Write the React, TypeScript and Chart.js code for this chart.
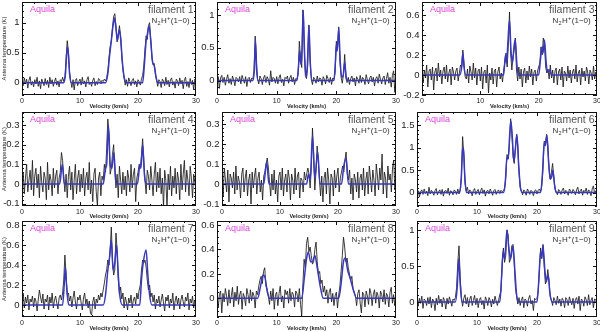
import React, { useEffect, useRef } from "react";
import { Chart, registerables } from "chart.js";

Chart.register(...registerables);

// ---------------- data ----------------
const VELOCITY = [
  0, 0.2, 0.4, 0.6, 0.8, 1, 1.2, 1.4, 1.6, 1.8,
  2, 2.2, 2.4, 2.6, 2.8, 3, 3.2, 3.4, 3.6, 3.8,
  4, 4.2, 4.4, 4.6, 4.8, 5, 5.2, 5.4, 5.6, 5.8,
  6, 6.2, 6.4, 6.6, 6.8, 7, 7.2, 7.4, 7.6, 7.8,
  8, 8.2, 8.4, 8.6, 8.8, 9, 9.2, 9.4, 9.6, 9.8,
  10, 10.2, 10.4, 10.6, 10.8, 11, 11.2, 11.4, 11.6, 11.8,
  12, 12.2, 12.4, 12.6, 12.8, 13, 13.2, 13.4, 13.6, 13.8,
  14, 14.2, 14.4, 14.6, 14.8, 15, 15.2, 15.4, 15.6, 15.8,
  16, 16.2, 16.4, 16.6, 16.8, 17, 17.2, 17.4, 17.6, 17.8,
  18, 18.2, 18.4, 18.6, 18.8, 19, 19.2, 19.4, 19.6, 19.8,
  20, 20.2, 20.4, 20.6, 20.8, 21, 21.2, 21.4, 21.6, 21.8,
  22, 22.2, 22.4, 22.6, 22.8, 23, 23.2, 23.4, 23.6, 23.8,
  24, 24.2, 24.4, 24.6, 24.8, 25, 25.2, 25.4, 25.6, 25.8,
  26, 26.2, 26.4, 26.6, 26.8, 27, 27.2, 27.4, 27.6, 27.8,
  28, 28.2, 28.4, 28.6, 28.8, 29, 29.2, 29.4, 29.6, 29.8, 30,
];
const X_TICKS = [0, 10, 20, 30];
const SOURCE = "Aquila";
const NAMES = [
  "filament 1", "filament 2", "filament 3",
  "filament 4", "filament 5", "filament 6",
  "filament 7", "filament 8", "filament 9",
];
const X_TITLE = "Velocity (km/s)";
const Y_TITLE = "Antenna temperature (K)";

const SPEC_1 = [
  0.03, -0.05, 0.08, -0.02, 0.06, -0.09, 0.04, 0.10, -0.04, 0.02,
  -0.07, 0.05, -0.02, 0.09, -0.06, 0.03, -0.10, 0.06, 0.01, -0.05,
  0.07, -0.03, 0.04, -0.08, 0.09, -0.02, 0.05, -0.06, 0.02, 0.08,
  -0.04, 0.03, -0.07, 0.05, 0.02, 0.09, 0.02, 0.10, 0.40, 0.70,
  0.52, 0.18, 0.03, -0.08, 0.05, -0.12, 0.04, 0.07, -0.05, 0.02,
  0.06, -0.04, 0.09, -0.02, 0.03, -0.07, 0.05, 0.10, -0.03, 0.01,
  -0.06, 0.04, 0.08, -0.05, 0.02, -0.03, 0.07, 0.05, -0.02, 0.04,
  0.02, 0.06, 0.03, 0.08, 0.20, 0.42, 0.60, 0.70, 0.92, 1.10,
  1.15, 0.95, 0.68, 0.80, 0.95, 0.78, 0.45, 0.22, 0.08, -0.04,
  0.05, -0.06, 0.08, 0.02, -0.05, 0.04, 0.07, -0.03, 0.03, -0.07,
  0.05, 0.02, -0.04, 0.06, 0.12, 0.28, 0.55, 0.78, 0.72, 0.95,
  1.00, 0.72, 0.42, 0.30, 0.32, 0.15, 0.04, -0.06, 0.05, 0.02,
  -0.08, 0.06, 0.03, -0.05, 0.09, -0.03, 0.04, -0.07, 0.05, 0.08,
  -0.04, 0.02, -0.09, 0.06, 0.03, -0.05, 0.08, -0.02, 0.04, -0.10,
  0.05, 0.09, -0.06, 0.02, -0.08, 0.07, -0.03, 0.04, -0.12, 0.06, 0.01,
];
const FIT_V_1 = [0, 7.2, 7.5, 7.7, 7.85, 8.0, 8.2, 8.5, 14.4, 14.8, 15.1, 15.4, 15.7, 15.95, 16.2, 16.45, 16.75, 17.0, 17.3, 17.6, 18.0, 20.8, 21.1, 21.4, 21.6, 21.9, 22.2, 22.5, 22.8, 23.1, 23.4, 30];
const FIT_T_1 = [0, 0, 0.15, 0.48, 0.6, 0.48, 0.15, 0, 0, 0.15, 0.45, 0.7, 0.95, 1.08, 0.9, 0.7, 0.88, 0.75, 0.35, 0.1, 0, 0, 0.3, 0.7, 0.8, 0.95, 0.7, 0.35, 0.28, 0.1, 0, 0];

const SPEC_2 = [
  -0.05, 0.06, -0.12, 0.04, 0.08, -0.03, 0.05, -0.07, 0.02, 0.09,
  -0.04, 0.03, -0.06, 0.07, 0.01, -0.08, 0.05, 0.03, -0.02, 0.06,
  -0.05, 0.08, 0.02, -0.04, 0.06, -0.09, 0.03, 0.05, -0.03, 0.04,
  0.02, 0.15, 0.68, 0.30, 0.02, -0.05, 0.07, 0.03, -0.06, 0.04,
  0.08, -0.03, 0.06, 0.02, -0.07, 0.15, -0.02, 0.05, 0.03, -0.04,
  0.06, -0.05, 0.04, 0.09, -0.03, 0.02, -0.08, 0.05, 0.03, 0.07,
  -0.04, 0.04, 0.08, -0.02, 0.05, -0.06, 0.03, 0.02, 0.10, 0.60,
  0.35, 0.20, 1.08, 0.55, 0.08, 0.03, 0.22, 0.85, 0.30, 0.02,
  -0.06, 0.05, 0.02, -0.04, 0.07, -0.02, 0.04, 0.03, -0.07, 0.06,
  0.02, -0.05, 0.08, 0.03, -0.03, 0.05, -0.06, 0.04, 0.02, 0.12,
  0.60, 0.50, 0.82, 0.30, 0.05, -0.04, 0.10, 0.40, 0.05, -0.03,
  0.05, -0.06, 0.03, 0.07, -0.02, 0.04, -0.08, 0.06, 0.02, -0.04,
  0.08, -0.03, 0.05, 0.02, -0.06, 0.09, 0.01, -0.05, 0.04, 0.07,
  -0.02, 0.05, -0.08, 0.03, 0.06, -0.04, 0.10, 0.02, -0.05, 0.04,
  0.07, -0.06, 0.03, 0.12, -0.04, 0.05, -0.10, 0.08, 0.15, -0.18, 0.05,
];
const FIT_V_2 = [0, 6.0, 6.25, 6.45, 6.65, 6.9, 13.4, 13.65, 13.85, 14.05, 14.2, 14.45, 14.7, 14.95, 15.15, 15.4, 15.65, 15.95, 19.6, 19.85, 20.0, 20.15, 20.4, 20.65, 20.9, 21.15, 21.4, 21.65, 21.9, 30];
const FIT_T_2 = [0, 0, 0.15, 0.62, 0.15, 0, 0, 0.2, 0.45, 0.25, 0.35, 1.07, 0.35, 0.05, 0.25, 0.84, 0.25, 0, 0, 0.3, 0.55, 0.45, 0.8, 0.3, 0.05, 0.08, 0.28, 0.05, 0, 0];

const SPEC_3 = [
  0.02, -0.08, 0.05, -0.03, 0.10, -0.12, 0.04, 0.06, -0.05, 0.08,
  -0.15, 0.03, 0.07, -0.06, 0.12, -0.02, 0.05, -0.09, 0.04, 0.08,
  -0.04, 0.10, -0.07, 0.02, 0.06, -0.10, 0.08, 0.03, -0.05, 0.04,
  0.07, -0.06, 0.02, 0.10, 0.08, 0.25, 0.12, -0.02, -0.04, 0.06,
  -0.08, 0.09, 0.03, -0.05, 0.12, -0.03, 0.07, -0.10, 0.04, 0.06,
  -0.06, 0.08, -0.14, 0.03, 0.05, -0.08, 0.10, -0.18, 0.02, -0.05,
  0.07, -0.09, 0.04, 0.06, -0.12, 0.03, 0.08, -0.04, 0.02, -0.07,
  0.05, 0.12, 0.22, 0.08, 0.30, 0.63, 0.22, 0.05, 0.18, 0.25,
  0.37, 0.05, -0.06, 0.08, -0.04, 0.06, -0.12, 0.03, 0.07, -0.08,
  0.04, -0.05, 0.09, -0.02, 0.06, -0.10, 0.03, 0.05, -0.06, 0.04,
  0.08, 0.12, 0.28, 0.20, 0.37, 0.30, 0.08, 0.02, 0.06, -0.04,
  0.10, -0.03, 0.05, -0.08, 0.04, 0.07, -0.10, 0.03, 0.06, -0.05,
  0.08, -0.12, 0.04, 0.02, -0.06, 0.09, -0.03, 0.05, -0.08, 0.03,
  0.06, -0.04, 0.10, -0.07, 0.02, 0.05, -0.10, 0.07, -0.02, 0.04,
  -0.06, 0.08, 0.03, -0.09, 0.05, 0.02, -0.05, 0.09, -0.04, 0.03, 0.01,
];
const FIT_V_3 = [0, 6.5, 6.8, 7.0, 7.2, 7.5, 14.0, 14.3, 14.5, 14.7, 15.0, 15.25, 15.5, 15.8, 16.0, 16.25, 16.5, 20.0, 20.3, 20.55, 20.75, 21.0, 21.25, 21.5, 21.9, 22.2, 30];
const FIT_T_3 = [0, 0, 0.08, 0.22, 0.08, 0, 0, 0.2, 0.12, 0.3, 0.55, 0.25, 0.12, 0.3, 0.35, 0.12, 0, 0, 0.15, 0.28, 0.22, 0.35, 0.15, 0.03, 0.05, 0, 0];

const SPEC_4 = [
  -0.02, 0.06, -0.05, 0.03, 0.10, -0.04, 0.02, 0.07, -0.03, 0.12,
  -0.06, 0.04, 0.08, -0.02, 0.05, -0.07, 0.09, 0.01, -0.04, 0.06,
  0.03, -0.08, 0.11, -0.03, 0.05, 0.02, -0.06, 0.08, -0.02, 0.04,
  0.07, -0.05, 0.03, 0.06, 0.16, 0.12, 0.03, -0.04, 0.05, -0.07,
  0.04, 0.09, -0.03, 0.06, -0.08, 0.02, 0.10, -0.05, 0.03, 0.07,
  -0.04, 0.05, -0.02, 0.08, -0.06, 0.03, 0.06, -0.03, 0.11, -0.05,
  0.02, -0.09, 0.05, 0.08, -0.04, -0.11, 0.03, 0.06, -0.06, 0.04,
  0.02, 0.10, 0.06, 0.18, 0.33, 0.25, 0.05, 0.08, 0.15, 0.20,
  0.08, -0.02, 0.05, -0.07, 0.09, 0.02, -0.05, 0.06, -0.03, 0.04,
  -0.06, 0.07, 0.03, -0.04, 0.10, -0.02, 0.05, 0.08, -0.09, 0.03,
  0.06, 0.10, 0.08, 0.15, 0.23, 0.12, 0.02, -0.05, 0.07, 0.04,
  -0.03, 0.09, 0.02, -0.06, 0.05, 0.11, -0.04, 0.06, -0.02, 0.08,
  -0.05, 0.03, -0.12, 0.07, 0.02, -0.12, 0.05, -0.03, 0.09, -0.06,
  0.04, -0.02, 0.08, -0.05, 0.06, 0.02, -0.08, 0.10, -0.03, 0.05,
  0.12, -0.04, 0.07, 0.02, -0.06, 0.09, 0.03, -0.07, 0.05, 0.01, -0.03,
];
const FIT_V_4 = [0, 6.5, 6.95, 7.3, 14.0, 14.4, 14.6, 14.9, 15.2, 15.5, 15.85, 16.2, 19.9, 20.35, 20.5, 20.8, 21.1, 21.4, 30];
const FIT_T_4 = [0, 0, 0.1, 0, 0, 0.08, 0.1, 0.3, 0.1, 0.08, 0.16, 0, 0, 0.1, 0.08, 0.2, 0.05, 0, 0];

const SPEC_5 = [
  0.04, -0.06, 0.08, 0.02, -0.04, 0.07, -0.09, 0.05, 0.03, -0.02,
  0.06, -0.05, 0.09, -0.03, 0.04, 0.01, -0.07, 0.05, 0.08, -0.04,
  0.03, 0.07, -0.06, 0.02, 0.05, -0.10, 0.06, -0.02, 0.04, 0.08,
  -0.05, 0.03, 0.06, -0.04, 0.02, -0.08, 0.04, 0.06, 0.10, 0.13,
  0.08, 0.01, -0.06, 0.05, -0.03, 0.07, -0.05, 0.02, -0.09, 0.04,
  0.06, -0.03, 0.08, -0.06, 0.02, 0.05, -0.04, 0.07, 0.03, -0.08,
  0.05, 0.02, -0.05, 0.08, -0.03, 0.04, 0.06, -0.07, 0.03, 0.02,
  -0.04, 0.06, 0.02, 0.05, 0.08, 0.05, -0.02, 0.08, 0.28, 0.15,
  -0.03, 0.06, 0.19, 0.12, 0.02, -0.06, 0.04, -0.09, 0.03, 0.06,
  -0.05, 0.08, 0.02, -0.10, 0.05, 0.03, -0.06, 0.07, -0.02, 0.04,
  0.08, -0.04, 0.03, 0.06, 0.09, 0.06, 0.12, 0.16, 0.05, 0.02,
  0.07, -0.05, 0.03, -0.08, 0.05, 0.02, -0.04, 0.06, -0.07, 0.03,
  0.05, -0.03, 0.08, -0.06, 0.02, 0.06, -0.05, 0.09, 0.03, -0.04,
  0.07, 0.02, -0.06, 0.10, 0.04, -0.03, 0.08, 0.02, 0.15, -0.05,
  0.06, 0.03, -0.07, 0.09, 0.02, 0.05, -0.04, 0.08, 0.12, -0.03, 0.04,
];
const FIT_V_5 = [0, 7.2, 7.7, 8.1, 14.6, 14.9, 15.2, 15.6, 16.0, 16.5, 16.9, 20.6, 21.0, 21.4, 21.8, 30];
const FIT_T_5 = [0, 0, 0.11, 0, 0, 0.05, 0.02, 0.24, 0.03, 0.16, 0, 0, 0.09, 0.13, 0, 0];

const SPEC_6 = [
  -0.05, 0.04, -0.10, 0.02, 0.06, -0.04, 0.08, -0.02, 0.03, -0.07,
  0.12, -0.03, 0.05, 0.01, -0.06, 0.04, 0.09, -0.05, 0.02, 0.06,
  -0.04, 0.07, -0.08, 0.03, 0.05, -0.02, 0.10, -0.06, 0.04, 0.02,
  -0.05, 0.06, 0.03, -0.04, 0.08, -0.03, 0.08, 0.35, 1.25, 0.85,
  0.20, 0.04, 0.12, -0.03, 0.06, 0.02, -0.07, 0.05, 0.09, -0.04,
  0.03, 0.07, -0.05, 0.04, 0.10, -0.02, 0.06, -0.08, 0.03, 0.05,
  -0.03, 0.08, 0.02, -0.06, 0.04, 0.07, -0.04, 0.03, 0.06, -0.02,
  0.05, 0.02, 0.04, 0.10, 0.35, 0.85, 0.75, 1.05, 1.65, 1.35,
  0.80, 0.65, 1.00, 1.30, 1.05, 0.45, 0.12, 0.03, -0.05, 0.06,
  0.02, -0.06, 0.08, 0.03, -0.04, 0.05, 0.02, -0.07, 0.04, 0.06,
  -0.03, 0.05, 0.08, 0.02, 0.15, 0.55, 1.15, 1.10, 1.30, 1.05,
  0.55, 0.30, 0.45, 0.65, 0.35, 0.08, 0.02, -0.05, 0.07, 0.03,
  -0.04, 0.06, 0.10, -0.03, 0.05, 0.02, -0.06, 0.08, 0.04, -0.02,
  0.07, 0.03, -0.05, 0.06, 0.12, -0.03, 0.04, 0.08, -0.06, 0.05,
  0.02, 0.10, -0.04, 0.06, 0.03, -0.07, 0.08, 0.15, -0.02, 0.04, 0.01,
];
const FIT_V_6 = [0, 7.1, 7.35, 7.6, 7.75, 7.95, 8.25, 14.4, 14.7, 15.0, 15.2, 15.45, 15.65, 15.9, 16.15, 16.35, 16.65, 16.95, 17.25, 17.6, 20.6, 20.9, 21.2, 21.4, 21.65, 21.95, 22.2, 22.45, 22.65, 22.9, 23.2, 30];
const FIT_T_6 = [0, 0, 0.25, 0.95, 1.0, 0.4, 0, 0, 0.2, 0.8, 0.75, 1.3, 1.6, 1.2, 0.7, 0.9, 1.3, 0.6, 0.1, 0, 0, 0.4, 1.1, 1.05, 1.28, 0.65, 0.3, 0.35, 0.5, 0.2, 0, 0];

const SPEC_7 = [
  0.05, 0.12, -0.03, 0.08, 0.02, 0.10, -0.05, 0.06, 0.03, 0.09,
  -0.02, 0.07, 0.04, -0.06, 0.05, 0.15, 0.08, 0.02, 0.11, -0.04,
  0.06, 0.03, 0.10, -0.05, 0.08, 0.02, 0.12, -0.03, 0.05, 0.09,
  0.02, -0.04, 0.07, 0.10, 0.05, 0.12, 0.25, 0.50, 0.30, 0.10,
  0.12, 0.04, 0.09, -0.02, 0.07, 0.14, 0.03, -0.04, 0.08, 0.05,
  0.10, 0.02, -0.05, 0.07, 0.12, 0.01, 0.06, -0.03, 0.04, -0.08,
  -0.10, 0.03, 0.08, -0.04, 0.06, 0.02, 0.10, 0.05, 0.12, 0.08,
  0.15, 0.22, 0.30, 0.35, 0.45, 0.40, 0.55, 0.78, 0.45, 0.30,
  0.35, 0.72, 0.55, 0.25, 0.10, 0.18, 0.06, 0.12, -0.03, 0.08,
  0.03, -0.05, 0.07, 0.02, 0.10, -0.03, 0.05, 0.08, 0.01, 0.12,
  0.06, 0.15, 0.20, 0.35, 0.45, 0.42, 0.45, 0.38, 0.25, 0.15,
  0.20, 0.08, 0.12, 0.03, 0.10, -0.04, 0.06, 0.02, 0.09, -0.02,
  0.05, 0.11, 0.02, -0.06, 0.08, 0.04, 0.10, -0.03, 0.06, 0.02,
  0.12, -0.05, 0.04, 0.09, 0.01, 0.07, -0.04, 0.05, 0.10, 0.03,
  -0.02, 0.08, 0.04, 0.12, -0.05, 0.06, 0.02, 0.09, -0.03, 0.05, 0.02,
];
const FIT_V_7 = [0, 7.0, 7.3, 7.47, 7.65, 7.9, 8.1, 14.0, 14.4, 14.8, 15.1, 15.4, 15.7, 16.0, 16.3, 16.6, 16.9, 17.3, 20.3, 20.6, 20.9, 21.4, 21.7, 22.0, 22.4, 30];
const FIT_T_7 = [0, 0, 0.22, 0.38, 0.22, 0.05, 0, 0, 0.1, 0.35, 0.48, 0.65, 0.35, 0.42, 0.6, 0.3, 0.08, 0, 0, 0.25, 0.42, 0.55, 0.3, 0.1, 0, 0];

const SPEC_8 = [
  0.05, -0.08, 0.03, 0.06, -0.12, 0.04, -0.03, 0.08, 0.02, -0.06,
  0.07, -0.04, 0.02, 0.09, -0.07, 0.05, -0.02, 0.10, -0.05, 0.03,
  0.06, -0.09, 0.04, 0.01, -0.06, 0.08, 0.03, -0.04, 0.07, -0.02,
  0.05, 0.02, -0.08, 0.06, 0.03, 0.10, 0.15, 0.18, 0.12, 0.22,
  0.25, 0.10, 0.08, 0.02, -0.05, 0.06, -0.02, 0.08, -0.09, 0.03,
  0.05, -0.06, 0.04, 0.10, -0.03, 0.02, -0.08, 0.07, 0.03, 0.06,
  -0.04, 0.08, -0.02, 0.05, 0.03, -0.07, 0.06, 0.04, -0.03, 0.08,
  -0.05, -0.14, 0.12, 0.32, 0.25, 0.45, 0.50, 0.38, 0.42, 0.35,
  0.28, 0.30, 0.40, 0.46, 0.30, 0.20, 0.22, 0.12, 0.15, 0.05,
  0.10, 0.02, 0.07, -0.04, 0.05, 0.08, -0.03, 0.04, -0.06, 0.02,
  0.05, -0.08, 0.03, 0.10, 0.22, 0.35, 0.50, 0.42, 0.30, 0.33,
  0.25, 0.20, 0.15, 0.18, 0.08, 0.05, 0.02, -0.06, 0.04, 0.07,
  -0.04, -0.12, 0.05, 0.03, -0.07, 0.06, 0.02, -0.05, 0.08, 0.04,
  -0.06, 0.03, 0.07, -0.04, 0.05, 0.02, -0.08, 0.06, 0.03, -0.03,
  0.07, -0.05, 0.04, 0.02, -0.07, 0.05, 0.09, -0.04, 0.03, -0.06, 0.02,
];
const FIT_V_8 = [0, 6.8, 7.3, 7.7, 8.0, 8.4, 8.8, 14.2, 14.6, 15.0, 15.3, 15.7, 16.0, 16.4, 16.8, 17.3, 17.8, 20.4, 20.8, 21.2, 21.5, 21.9, 22.4, 22.9, 23.4, 30];
const FIT_T_8 = [0, 0, 0.1, 0.19, 0.18, 0.06, 0, 0, 0.15, 0.32, 0.38, 0.3, 0.3, 0.35, 0.25, 0.1, 0, 0, 0.12, 0.3, 0.33, 0.23, 0.15, 0.06, 0, 0];

const SPEC_9 = [
  0.03, -0.06, 0.05, -0.02, 0.08, -0.09, 0.04, 0.02, -0.05, 0.06,
  -0.03, 0.07, -0.08, 0.04, 0.01, -0.12, 0.05, -0.04, 0.09, -0.02,
  0.04, -0.07, 0.06, 0.02, -0.10, 0.05, -0.03, 0.07, 0.01, -0.06,
  0.04, 0.02, 0.06, 0.20, 0.55, 0.78, 0.35, 0.05, -0.06, 0.05,
  0.10, -0.03, 0.06, -0.07, 0.04, 0.08, -0.05, 0.02, 0.09, -0.04,
  0.05, -0.08, 0.03, 0.06, -0.04, 0.02, -0.10, 0.07, 0.03, -0.05,
  0.06, 0.02, -0.07, 0.04, -0.03, 0.08, 0.01, -0.05, 0.03, 0.10,
  0.15, 0.55, 0.75, 0.55, 0.65, 1.00, 0.92, 0.55, 0.60, 0.78,
  0.80, 0.55, 0.20, 0.08, -0.03, 0.06, -0.05, 0.03, 0.07, -0.08,
  0.04, 0.02, -0.06, 0.05, 0.09, -0.03, 0.02, -0.12, 0.05, 0.03,
  0.05, 0.15, 0.45, 0.75, 0.60, 0.80, 0.50, 0.25, 0.30, 0.45,
  0.30, 0.08, 0.03, -0.05, 0.06, 0.02, -0.04, 0.08, -0.02, 0.04,
  -0.06, 0.05, 0.02, -0.08, 0.06, 0.03, -0.05, 0.07, 0.01, -0.04,
  0.05, -0.09, 0.03, 0.06, -0.03, 0.08, -0.12, 0.04, 0.02, -0.06,
  0.07, 0.03, -0.05, 0.10, -0.04, 0.02, 0.06, -0.08, 0.04, 0.03, -0.02,
];
const FIT_V_9 = [0, 6.4, 6.7, 6.95, 7.2, 7.5, 13.8, 14.1, 14.35, 14.6, 15.0, 15.3, 15.6, 16.0, 16.3, 16.6, 16.9, 20.0, 20.3, 20.6, 20.8, 21.0, 21.3, 21.55, 21.85, 22.15, 22.5, 30];
const FIT_T_9 = [0, 0, 0.2, 0.6, 0.25, 0, 0, 0.35, 0.7, 0.6, 1.0, 0.75, 0.6, 0.78, 0.45, 0.1, 0, 0, 0.3, 0.7, 0.62, 0.78, 0.45, 0.28, 0.38, 0.12, 0, 0];

const Y_TICKS_1 = [0, 0.5, 1];
const Y_TICKS_2 = [0, 0.5, 1];
const Y_TICKS_3 = [-0.2, 0, 0.2, 0.4, 0.6];
const Y_TICKS_4 = [-0.1, 0, 0.1, 0.2, 0.3];
const Y_TICKS_5 = [-0.1, 0, 0.1, 0.2, 0.3];
const Y_TICKS_6 = [0, 0.5, 1, 1.5];
const Y_TICKS_7 = [0, 0.2, 0.4, 0.6, 0.8];
const Y_TICKS_8 = [0, 0.2, 0.4, 0.6];
const Y_TICKS_9 = [0, 0.5, 1];

const Y_LIMITS_1 = [-0.205, 1.345];
const Y_LIMITS_2 = [-0.22, 1.2];
const Y_LIMITS_3 = [-0.2, 0.73];
const Y_LIMITS_4 = [-0.112, 0.366];
const Y_LIMITS_5 = [-0.11, 0.36];
const Y_LIMITS_6 = [-0.3, 1.8];
const Y_LIMITS_7 = [-0.12, 0.84];
const Y_LIMITS_8 = [-0.153, 0.633];
const Y_LIMITS_9 = [-0.21, 1.125];

// ---------------- layout / style ----------------
const FONT = '"Liberation Sans", Arial, Helvetica, sans-serif';

const PANELS = [
  { spec: SPEC_1, fv: FIT_V_1, ft: FIT_T_1, ticks: Y_TICKS_1, lim: Y_LIMITS_1, box: [0, 0, 200, 110], plot: [22, 2, 196, 95], yTitle: true, minor: 0.1 },
  { spec: SPEC_2, fv: FIT_V_2, ft: FIT_T_2, ticks: Y_TICKS_2, lim: Y_LIMITS_2, box: [200, 0, 200, 110], plot: [217, 2, 396, 95], yTitle: false, minor: 0.1 },
  { spec: SPEC_3, fv: FIT_V_3, ft: FIT_T_3, ticks: Y_TICKS_3, lim: Y_LIMITS_3, box: [400, 0, 200, 110], plot: [422, 2, 597, 95], yTitle: false, minor: 0.05 },
  { spec: SPEC_4, fv: FIT_V_4, ft: FIT_T_4, ticks: Y_TICKS_4, lim: Y_LIMITS_4, box: [0, 110, 200, 110], plot: [22, 112, 196, 206], yTitle: true, minor: 0.02 },
  { spec: SPEC_5, fv: FIT_V_5, ft: FIT_T_5, ticks: Y_TICKS_5, lim: Y_LIMITS_5, box: [200, 110, 200, 110], plot: [222, 112, 396, 206], yTitle: false, minor: 0.02 },
  { spec: SPEC_6, fv: FIT_V_6, ft: FIT_T_6, ticks: Y_TICKS_6, lim: Y_LIMITS_6, box: [400, 110, 200, 110], plot: [417, 112, 597, 206], yTitle: false, minor: 0.1 },
  { spec: SPEC_7, fv: FIT_V_7, ft: FIT_T_7, ticks: Y_TICKS_7, lim: Y_LIMITS_7, box: [0, 220, 200, 112], plot: [22, 221, 196, 317], yTitle: true, minor: 0.05 },
  { spec: SPEC_8, fv: FIT_V_8, ft: FIT_T_8, ticks: Y_TICKS_8, lim: Y_LIMITS_8, box: [200, 220, 200, 112], plot: [217, 221, 396, 317], yTitle: false, minor: 0.05 },
  { spec: SPEC_9, fv: FIT_V_9, ft: FIT_T_9, ticks: Y_TICKS_9, lim: Y_LIMITS_9, box: [400, 220, 200, 112], plot: [417, 221, 597, 317], yTitle: false, minor: 0.1 },
];

function drawMolecule(ctx: CanvasRenderingContext2D, xRight: number, yMid: number) {
  const parts = [
    { t: "N", s: 8, dy: 0 },
    { t: "2", s: 5.5, dy: 2.2 },
    { t: "H", s: 8, dy: 0 },
    { t: "+", s: 6, dy: -3 },
    { t: "(1\u22120)", s: 8, dy: 0 },
  ];
  let total = 0;
  const widths: number[] = [];
  for (const p of parts) {
    ctx.font = `${p.s}px ${FONT}`;
    const w = ctx.measureText(p.t).width + 0.3;
    widths.push(w);
    total += w;
  }
  let x = xRight - total;
  parts.forEach((p, i) => {
    ctx.font = `${p.s}px ${FONT}`;
    ctx.fillText(p.t, x, yMid + p.dy);
    x += widths[i];
  });
}

function Panel({ cfg, index }: { cfg: any; index: number }) {
  const ref = useRef<HTMLCanvasElement>(null);
  const [bx, by, bw, bh] = cfg.box;
  useEffect(() => {
    const [pl, pt, pr, pb] = cfg.plot;
    const leftW = pl - bx;
    const topPad = pt - by;
    const rightPad = bx + bw - pr;
    const bottomH = by + bh - pb;
    const fmt = (v: number) => String(Math.round(v * 100) / 100);

    const framePlugin = {
      id: "frame" + index,
      afterDraw(chart: any) {
        const ctx = chart.ctx;
        const { left, top, right, bottom } = chart.chartArea;
        const xs = chart.scales.x;
        const ys = chart.scales.y;
        ctx.save();
        ctx.strokeStyle = "#111";
        ctx.lineWidth = 1;
        ctx.strokeRect(Math.round(left) + 0.5, Math.round(top) + 0.5, Math.round(right - left) - 1, Math.round(bottom - top) - 1);
        ctx.beginPath();
        for (let v = 2; v < 30; v += 2) {
          const px = Math.round(xs.getPixelForValue(v)) + 0.5;
          const len = v % 10 === 0 ? 4 : 2;
          ctx.moveTo(px, bottom);
          ctx.lineTo(px, bottom - len);
          ctx.moveTo(px, top);
          ctx.lineTo(px, top + len);
        }
        const [ymin, ymax] = cfg.lim;
        const start = Math.ceil(ymin / cfg.minor - 1e-6);
        const end = Math.floor(ymax / cfg.minor + 1e-6);
        for (let k = start; k <= end; k++) {
          const v = k * cfg.minor;
          const isMajor = cfg.ticks.some((t: number) => Math.abs(t - v) < 1e-6);
          const len = isMajor ? 4 : 2;
          const py = Math.round(ys.getPixelForValue(v)) + 0.5;
          ctx.moveTo(left, py);
          ctx.lineTo(left + len, py);
          ctx.moveTo(right, py);
          ctx.lineTo(right - len, py);
        }
        ctx.stroke();

        ctx.textBaseline = "middle";
        ctx.textAlign = "left";
        ctx.fillStyle = "#d945d9";
        ctx.font = `9px ${FONT}`;
        ctx.fillText(SOURCE, left + 8, top + 7.5);
        ctx.textAlign = "right";
        ctx.fillStyle = "#555";
        ctx.font = `10.5px ${FONT}`;
        ctx.fillText(NAMES[index], right - 2.5, top + 8);
        ctx.textAlign = "left";
        ctx.fillStyle = "#333";
        drawMolecule(ctx, right - 6, top + 19);
        ctx.restore();
      },
    };

    const chart = new Chart(ref.current as HTMLCanvasElement, {
      type: "line",
      data: {
        datasets: [
          {
            data: cfg.fv.map((v: number, i: number) => ({ x: v, y: cfg.ft[i] })),
            borderColor: "#3838b8",
            borderWidth: 1.5,
            pointRadius: 0,
            cubicInterpolationMode: "monotone",
            clip: 0,
          },
          {
            data: VELOCITY.map((v, i) => ({ x: v, y: cfg.spec[i] })),
            borderColor: "#1a1a1a",
            borderWidth: 0.85,
            pointRadius: 0,
            tension: 0,
            clip: 0,
          },
        ],
      },
      options: {
        animation: false,
        responsive: false,
        devicePixelRatio: 1,
        layout: { padding: { top: topPad, right: rightPad, left: 0, bottom: 0 } },
        plugins: { legend: { display: false }, tooltip: { enabled: false } },
        scales: {
          x: {
            type: "linear",
            min: 0,
            max: 30,
            grid: { display: false, drawTicks: false },
            border: { display: false },
            ticks: { color: "#222", font: { size: 7, family: FONT }, padding: 1.5, maxRotation: 0, autoSkip: false },
            title: { display: true, text: X_TITLE, color: "#222", font: { size: 5.6, weight: "bold", family: FONT }, padding: { top: 0, bottom: 0 } },
            afterBuildTicks: (s: any) => { s.ticks = X_TICKS.map((v) => ({ value: v })); },
            afterFit: (s: any) => { s.height = bottomH; s.paddingLeft = 0; s.paddingRight = 0; },
          },
          y: {
            type: "linear",
            min: cfg.lim[0],
            max: cfg.lim[1],
            grid: { display: false, drawTicks: false },
            border: { display: false },
            ticks: { color: "#222", font: { size: 9.5, family: FONT }, padding: 2.5, autoSkip: false, callback: (v: any) => fmt(Number(v)) },
            title: { display: cfg.yTitle, text: Y_TITLE, color: "#222", font: { size: 5.8, family: FONT }, padding: { top: 1, bottom: 0 } },
            afterBuildTicks: (s: any) => { s.ticks = cfg.ticks.map((v: number) => ({ value: v })); },
            afterFit: (s: any) => { s.width = leftW; s.paddingTop = 0; s.paddingBottom = 0; },
          },
        },
      } as any,
      plugins: [framePlugin],
    } as any);
    return () => chart.destroy();
  }, []);
  return (
    <canvas
      ref={ref}
      width={bw}
      height={bh}
      style={{ position: "absolute", left: bx, top: by, width: bw, height: bh }}
    />
  );
}

export default function App() {
  return (
    <div style={{ position: "absolute", left: 0, top: 0, width: 600, height: 332, background: "#fff", overflow: "hidden" }}>
      {PANELS.map((p, i) => (
        <Panel key={i} cfg={p} index={i} />
      ))}
    </div>
  );
}
